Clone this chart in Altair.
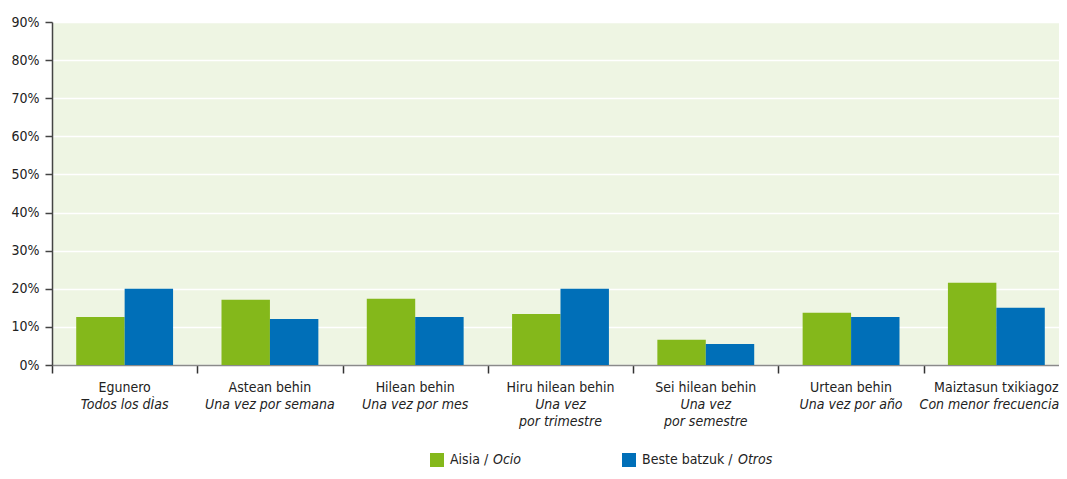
import altair as alt
import pandas as pd

categories = ["Egunero", "Astean behin", "Hilean behin", "Hiru hilean behin",
              "Sei hilean behin", "Urtean behin", "Maiztasun txikiagoz"]
subtitles = ["Todos los dÌas", "Una vez por semana", "Una vez por mes",
             "Una vez\npor trimestre", "Una vez\npor semestre", "Una vez por año",
             "Con menor frecuencia"]
series_eu = ["Aisia", "Beste batzuk"]
series_es = ["Ocio", "Otros"]
ocio = [12.6, 17.1, 17.4, 13.4, 6.6, 13.7, 21.6]
otros = [20.0, 12.1, 12.6, 20.0, 5.5, 12.6, 15.0]
colors = ["#84B81B", "#006FB8"]
y_ticks = [0, 10, 20, 30, 40, 50, 60, 70, 80, 90]

FONT = "DejaVu Sans Condensed, Liberation Sans Narrow, sans-serif"
TXT = "#222222"
FS = 14

rows = []
for c, a, b in zip(categories, ocio, otros):
    rows.append({"cat": c, "series": series_eu[0], "value": a})
    rows.append({"cat": c, "series": series_eu[1], "value": b})
df = pd.DataFrame(rows)
df_cat = pd.DataFrame({"cat": categories, "sub": subtitles})
last_cat = categories[-1]

W, H = 1017, 343

xenc = alt.X("cat:N", sort=categories,
             scale=alt.Scale(paddingInner=0, paddingOuter=0),
             axis=alt.Axis(labels=False, title=None, tickBand="extent", grid=False,
                           domainColor="#8a8a8a", tickColor="#333333", tickSize=8,
                           domainWidth=1.5, tickWidth=1.5))

bars = alt.Chart(df).mark_bar().encode(
    x=xenc,
    xOffset=alt.XOffset("series:N", sort=series_eu,
                        scale=alt.Scale(paddingOuter=0.5, paddingInner=0)),
    y=alt.Y("value:Q", scale=alt.Scale(domain=[0, 90], nice=False),
            axis=alt.Axis(values=y_ticks, labelExpr="datum.value + '%'", title=None,
                          gridColor="white", gridWidth=1.5, domainColor="#444444",
                          tickColor="#444444", tickSize=7, labelPadding=6,
                          domainWidth=1.5, tickWidth=1.5)),
    color=alt.Color("series:N", scale=alt.Scale(domain=series_eu, range=colors), legend=None),
)

lab1 = alt.Chart(df_cat).mark_text(baseline="top", font=FONT, fontSize=FS, color=TXT).encode(
    x=alt.X("cat:N", sort=categories), y=alt.value(359), text="cat:N")
lab2 = alt.Chart(df_cat).transform_filter(
    alt.datum.cat != last_cat
).mark_text(baseline="top", font=FONT, fontSize=FS, color=TXT,
            fontStyle="italic", lineBreak="\n", lineHeight=17).encode(
    x=alt.X("cat:N", sort=categories), y=alt.value(376), text="sub:N")
lab2_last = alt.Chart(df_cat).transform_filter(
    alt.datum.cat == last_cat
).mark_text(baseline="top", font=FONT, fontSize=FS, color=TXT, dx=-7,
            fontStyle="italic", lineBreak="\n", lineHeight=17).encode(
    x=alt.X("cat:N", sort=categories), y=alt.value(376), text="sub:N")

leg_df = pd.DataFrame({"eu": series_eu, "es": series_es})
LEG_Y = 438
sq_x = [385, 577]
txt_x = [398, 590]
it_x = [441, 686]
legend_layers = []
for i in range(2):
    d = leg_df.iloc[[i]]
    legend_layers.append(alt.Chart(d).mark_point(shape="square", filled=True, size=196,
                                                 color=colors[i], opacity=1).encode(
        x=alt.value(sq_x[i]), y=alt.value(LEG_Y)))
    legend_layers.append(alt.Chart(d).mark_text(align="left", baseline="middle", font=FONT,
                                                fontSize=FS, color=TXT).encode(
        x=alt.value(txt_x[i]), y=alt.value(LEG_Y), text=alt.Text("label:N")).transform_calculate(
        label="datum.eu + ' /'"))
    legend_layers.append(alt.Chart(d).mark_text(align="left", baseline="middle", font=FONT,
                                                fontSize=FS, color=TXT, fontStyle="italic").encode(
        x=alt.value(it_x[i]), y=alt.value(LEG_Y), text="es:N"))

chart = alt.layer(bars, lab1, lab2, lab2_last, *legend_layers).properties(
    width=W, height=H,
    background="white",
    autosize=alt.AutoSizeParams(type="none"),
    padding={"left": 44, "top": 14, "right": -10, "bottom": 105},
).configure_view(fill="#EEF5E3", stroke=None).configure_axis(
    labelFont=FONT, labelFontSize=FS, labelColor=TXT
)

chart.save("out.html", embed_options={"renderer": "svg", "actions": False})
